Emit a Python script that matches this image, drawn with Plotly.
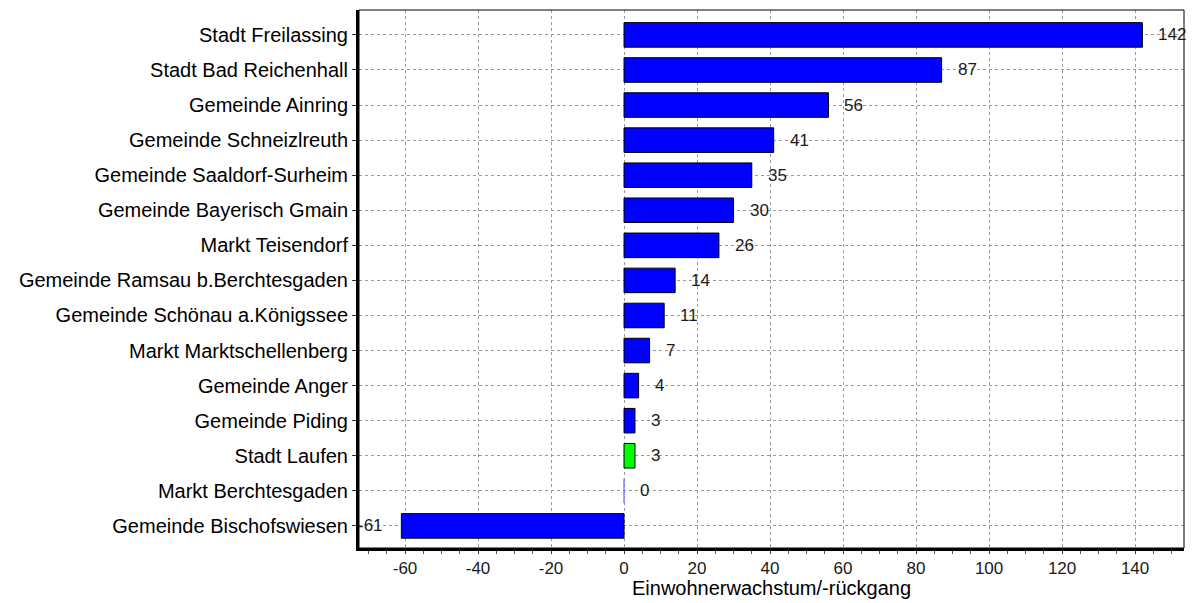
import plotly.graph_objects as go

categories = [
    "Stadt Freilassing",
    "Stadt Bad Reichenhall",
    "Gemeinde Ainring",
    "Gemeinde Schneizlreuth",
    "Gemeinde Saaldorf-Surheim",
    "Gemeinde Bayerisch Gmain",
    "Markt Teisendorf",
    "Gemeinde Ramsau b.Berchtesgaden",
    "Gemeinde Schönau a.Königssee",
    "Markt Marktschellenberg",
    "Gemeinde Anger",
    "Gemeinde Piding",
    "Stadt Laufen",
    "Markt Berchtesgaden",
    "Gemeinde Bischofswiesen",
]
values = [142, 87, 56, 41, 35, 30, 26, 14, 11, 7, 4, 3, 3, 0, -61]
highlight = "Stadt Laufen"
x_ticks = [-60, -40, -20, 0, 20, 40, 60, 80, 100, 120, 140]
x_title = "Einwohnerwachstum/-rückgang"

FONT = "Liberation Sans, Arial, sans-serif"

fill_colors = ["#00FF00" if c == highlight else "#0000FF" for c in categories]
line_colors = ["#7F7FFF" if v == 0 else "#000000" for v in values]

fig = go.Figure()
fig.add_trace(go.Bar(
    x=values,
    y=categories,
    orientation="h",
    width=0.7,
    marker=dict(color=fill_colors, line=dict(color=line_colors, width=1)),
    hoverinfo="x+y",
))

for c, v in zip(categories, values):
    fig.add_annotation(
        x=v, y=c, xref="x", yref="y",
        text=str(v), showarrow=False,
        xanchor="left" if v >= 0 else "right",
        xshift=14 if v >= 0 else -16,
        font=dict(family=FONT, size=17, color="#1a1a1a"),
    )

fig.add_annotation(
    x=0.5, y=-40 / 538, xref="paper", yref="paper",
    text=x_title, showarrow=False, xanchor="center", yanchor="middle",
    font=dict(family=FONT, size=20, color="#000000"),
)

grid = dict(gridcolor="#9a9a9a", griddash="3px,3px", gridwidth=1)

# the page body has an 8px margin: figure shrunk by 8px, left/top margins reduced by 8px
fig.update_layout(
    width=1191, height=595,
    margin=dict(l=351, r=15, t=2, b=55),
    plot_bgcolor="white", paper_bgcolor="white",
    showlegend=False,
    font=dict(family=FONT, color="#000000"),
    xaxis=dict(
        range=[-72.6, 153.4],
        tickvals=x_ticks,
        ticktext=[str(t) for t in x_ticks],
        ticks="outside", ticklen=3, tickcolor="#333",
        minor=dict(dtick=5, tick0=0, ticks="outside", ticklen=3, tickcolor="#555", showgrid=False),
        showline=True, linecolor="#000", linewidth=3,
        zeroline=False,
        tickfont=dict(family=FONT, size=17, color="#1a1a1a"),
        **grid,
    ),
    xaxis2=dict(
        range=[-72.6, 153.4], overlaying="x", side="top",
        tickvals=x_ticks, ticks="inside", ticklen=4, tickcolor="#555",
        showticklabels=False, showgrid=False, zeroline=False, showline=False,
    ),
    yaxis=dict(
        categoryorder="array", categoryarray=categories,
        range=[len(categories) - 1 + 0.63, -0.71],
        ticks="outside", ticklen=4, tickcolor="#333",
        showline=True, linecolor="#000", linewidth=3,
        tickfont=dict(family=FONT, size=20, color="#000000"),
        **grid,
    ),
    shapes=[dict(type="rect", xref="paper", yref="paper", x0=0, x1=1, y0=0, y1=1,
                 line=dict(color="#000", width=1), fillcolor="rgba(0,0,0,0)", layer="above")],
)

fig.write_html("out.html")
